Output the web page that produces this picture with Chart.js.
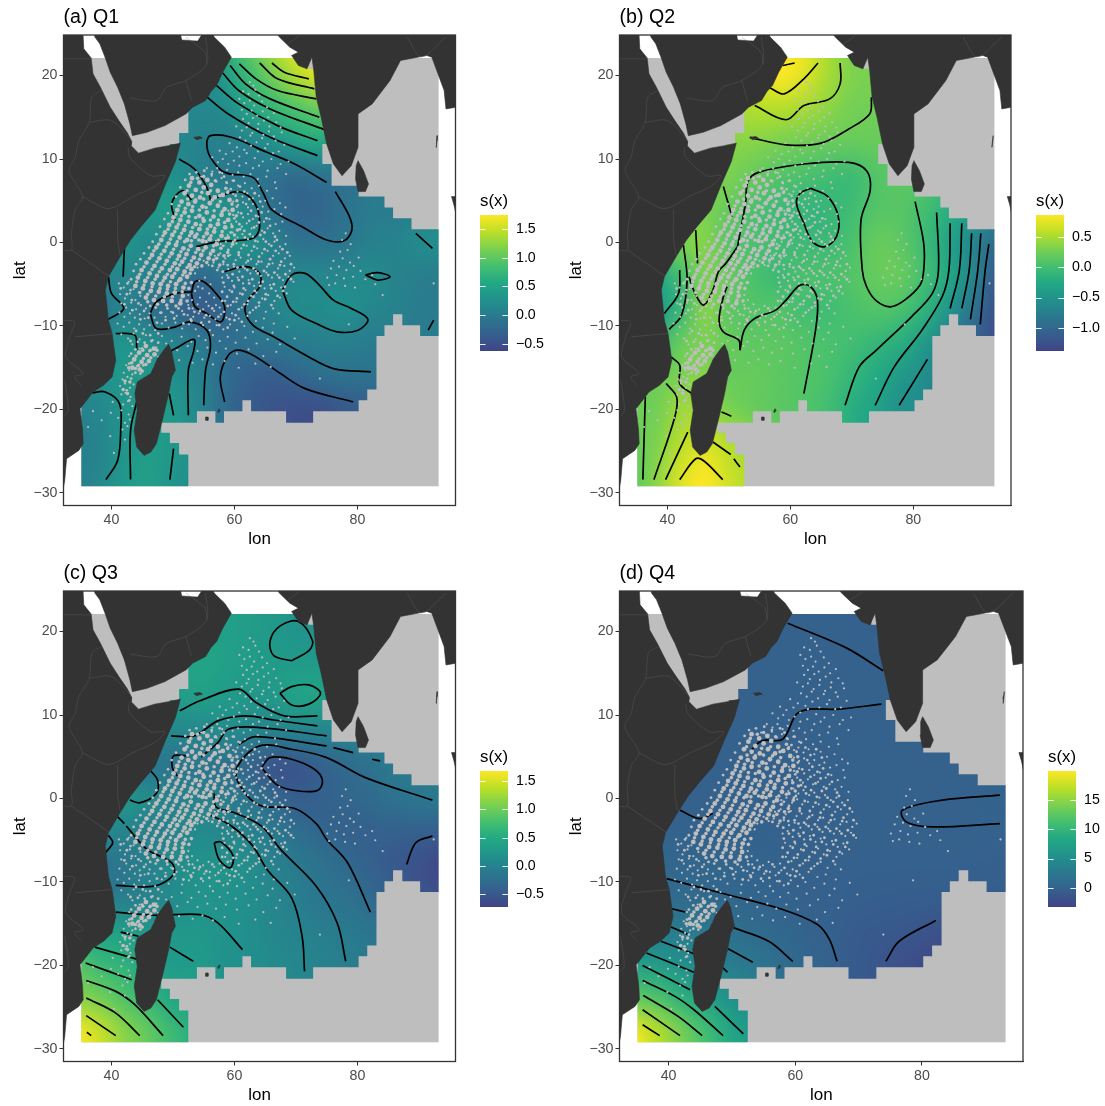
<!DOCTYPE html>
<html>
<head>
<meta charset="utf-8">
<title>s(x) by quarter</title>
<script src="https://cdn.jsdelivr.net/npm/chart.js@4/dist/chart.umd.min.js"></script>
<style>
html,body{margin:0;padding:0;background:#fff;overflow:hidden;width:1105px;height:1106px}
canvas{position:absolute}
</style>
</head>
<body>
<script>
// tick labels
var lonTicks = [40, 60, 80];
var latTicks = [-30, -20, -10, 0, 10, 20];
var q1Ticks = [-0.5, 0, 0.5, 1, 1.5];
var q2Ticks = [-1, -0.5, 0, 0.5];
var q3Ticks = [-0.5, 0, 0.5, 1, 1.5];
var q4Ticks = [0, 5, 10, 15];

// nodes of the s(x) fields
var fieldLon = [34, 38, 42, 46, 50, 54, 58, 62, 66, 70, 74, 78, 82, 86, 90, 94];
var fieldLat = [24, 20, 16, 12, 8, 4, 0, -4, -8, -12, -16, -20, -24, -28, -32];

var q1Field = [
[.1,.1,.1,.1,.2,.3,.6,1,1.35,1.7,1.74,1.74,1,.5,.3,.2],
[.1,.1,.1,.1,.2,.2,.35,.75,1.1,1.4,1.6,1.6,1,.5,.3,.2],
[.1,.1,.1,.1,.15,.15,.2,.45,.7,.9,1.05,1,.7,.4,.3,.2],
[.2,.2,.2,.15,.15,.1,.05,.1,.25,.45,.55,.3,.2,.1,.1,.1],
[.3,.3,.3,.3,.25,.1,-.02,-.05,-.1,-.2,-.1,-.1,0,0,0,0],
[.3,.3,.3,.35,.4,.25,.3,.15,-.1,-.25,-.25,-.1,0,0,.05,.1],
[.25,.25,.3,.2,.2,.15,.3,.3,.1,-.1,-.1,-.05,.05,.1,.2,.25],
[.1,.1,.15,.1,.1,-.2,-.1,0,.05,.15,.15,.15,.2,.1,.05,0],
[-.1,-.1,.1,-.1,-.2,-.35,-.25,-.05,.1,.2,.2,.25,.15,.1,0,0],
[.2,.2,.3,.25,.1,0,-.15,-.1,-.05,0,.05,.05,0,0,0,0],
[.2,.25,.35,.35,.25,.1,-.15,-.3,-.35,-.25,-.15,-.1,-.1,-.1,-.1,-.1],
[.1,.15,.3,.4,.35,.15,-.15,-.35,-.45,-.5,-.5,-.4,-.35,-.3,-.3,-.3],
[.05,.1,.3,.4,.35,.25,0,-.3,-.4,-.5,-.5,-.4,-.3,-.3,-.3,-.3],
[.05,.15,.35,.45,.3,.2,0,-.3,-.4,-.5,-.5,-.4,-.3,-.3,-.3,-.3],
[.05,.15,.35,.45,.3,.2,0,-.3,-.4,-.5,-.5,-.4,-.3,-.3,-.3,-.3]
];
var q2Field = [
[.3,.3,.4,.4,.5,.7,.86,.8,.5,.3,.3,.3,.2,0,-.2,-.4],
[.3,.3,.4,.4,.5,.7,.86,.75,.5,.32,.3,.3,.2,0,-.2,-.4],
[.3,.3,.4,.4,.45,.55,.55,.5,.38,.27,.25,.25,.2,0,-.2,-.4],
[.3,.3,.4,.4,.35,.35,.3,.25,.2,.2,.2,.2,.2,0,-.2,-.4],
[.3,.3,.4,.35,.3,.2,.1,.05,0,-.05,.1,.15,.15,-.05,-.2,-.4],
[.3,.35,.4,.3,.2,.05,-.03,-.1,-.1,-.02,.1,.12,0,-.2,-.4,-.7],
[.2,.2,.3,.35,.1,.05,0,-.05,-.05,.05,.2,.15,-.05,-.35,-.7,-1],
[-.3,-.3,0,.3,.2,.05,-.05,.05,.05,.1,.2,.2,0,-.3,-.7,-1.2],
[-.5,-.5,-.1,.35,.15,.1,.1,0,-.02,.05,.1,.05,-.15,-.5,-.9,-1.3],
[-.1,-.1,.2,.3,.2,.15,.15,.1,.05,0,-.1,-.2,-.45,-.8,-1.1,-1.3],
[.2,.2,.3,.35,.2,.2,.15,.1,.05,-.1,-.25,-.45,-.6,-.9,-1.1,-1.3],
[.25,.25,.45,.45,.3,.2,.15,.1,0,-.2,-.35,-.55,-.6,-.9,-1.1,-1.3],
[.2,.3,.55,.7,.55,.4,.2,.1,0,-.2,-.35,-.55,-.6,-.9,-1.1,-1.3],
[.15,.35,.7,.86,.65,.5,.2,.1,0,-.2,-.35,-.55,-.6,-.9,-1.1,-1.3],
[.15,.35,.7,.86,.65,.5,.2,.1,0,-.2,-.35,-.55,-.6,-.9,-1.1,-1.3]
];
var q3Field = [
[.3,.3,.3,.3,.35,.4,.38,.35,.3,.2,.2,.2,.2,.1,0,0],
[.3,.3,.3,.3,.35,.4,.37,.33,.28,.2,.2,.2,.2,.1,0,0],
[.3,.3,.3,.3,.35,.42,.38,.32,.3,.3,.3,.3,.2,.1,0,0],
[.1,.1,.1,.2,.3,.35,.3,.25,.25,.4,.4,.3,.2,.1,0,0],
[-.05,-.05,-.05,.05,.05,.05,.1,.05,0,0,0,0,0,-.05,-.05,-.1],
[.05,.05,-.05,-.15,-.15,-.15,-.2,-.35,-.55,-.55,-.4,-.3,-.2,-.1,-.1,-.1],
[.2,.2,.25,.1,0,0,-.05,-.15,-.3,-.45,-.4,-.35,-.3,-.2,-.15,-.1],
[.1,.1,0,-.05,0,.1,.05,0,-.1,-.25,-.35,-.4,-.4,-.4,-.4,-.45],
[-.2,-.2,-.15,0,.1,.2,.2,.15,0,-.1,-.2,-.3,-.4,-.5,-.6,-.7],
[-.1,-.1,-.05,0,.1,.2,.2,.15,.05,-.05,-.15,-.2,-.3,-.4,-.5,-.6],
[.4,.4,.35,.25,.25,.25,.2,.15,.05,0,-.05,-.1,-.15,-.2,-.3,-.4],
[.9,.7,.6,.4,.3,.3,.2,.15,.1,.05,0,-.05,-.1,-.2,-.3,-.4],
[1.15,1.05,.85,.65,.45,.35,.2,.15,.1,.05,0,-.05,-.1,-.2,-.3,-.4],
[1.68,1.45,1.15,.95,.7,.5,.2,.15,.1,.05,0,-.05,-.1,-.2,-.3,-.4],
[1.68,1.45,1.15,.95,.7,.5,.2,.15,.1,.05,0,-.05,-.1,-.2,-.3,-.4]
];
var q4Field = [
[0,0,0,0,0,0,0,0,-.1,-.3,-.4,-.3,0,0,0,0],
[0,0,0,0,0,0,0,0,-.05,-.2,-.3,-.2,0,0,0,0],
[0,0,0,0,0,0,0,0,0,0,0,0,0,0,0,0],
[0,0,0,0,0,0,0,0,0,0,0,0,0,0,0,0],
[0,0,0,0,0,0,0,0,0,0,0,0,0,0,0,0],
[0,0,0,0,0,0,0,0,0,0,0,0,0,0,0,.05],
[0,0,0,0,0,0,0,0,0,0,0,0,0,0,.05,.1],
[.2,.2,.1,.1,.1,.05,0,0,0,0,0,0,0,0,0,0],
[.5,.5,.5,.4,.3,.2,.1,0,0,-.1,-.2,-.2,-.2,-.2,-.3,-.3],
[1,1,1,.8,.5,.3,.1,0,-.2,-.4,-.5,-.6,-.6,-.6,-.6,-.6],
[3,3,3,2.5,1.6,1,.5,.1,-.3,-.8,-1,-1.2,-1.8,-1.8,-1.8,-1.8],
[7,7,5.5,4,3,2.2,1.2,.4,-.3,-.9,-1.5,-2.3,-2.6,-2.6,-2.6,-2.6],
[13,12,9.5,7.5,5.5,4,2,.4,-.3,-.9,-1.5,-2.3,-2.6,-2.6,-2.6,-2.6],
[20,17,14,11,8,6,2,.4,-.3,-.9,-1.5,-2.3,-2.6,-2.6,-2.6,-2.6],
[20,17,14,11,8,6,2,.4,-.3,-.9,-1.5,-2.3,-2.6,-2.6,-2.6,-2.6]
];

// raster extent and the stepped outline of its non-empty cells (lon,lat,...)
var gridLon = [35.1, 93.2];
var gridLat = [-29.2, 22.1];
var oceanCells = [35.1,-29.2,52.5,-29.2,52.5,-25.4,51,-25.4,51,-24,49.5,-24,49.5,-22.8,48.1,-22.8,48.1,-21.6,53.9,-21.6,53.9,-20.2,56.9,-20.2,56.9,-21.6,58.3,-21.6,58.3,-20.2,61.3,-20.2,61.3,-18.9,62.7,-18.9,62.7,-20.2,68.4,-20.2,68.4,-21.6,72.8,-21.6,72.8,-20.2,80.2,-20.2,80.2,-18.9,81.6,-18.9,81.6,-17.6,83.1,-17.6,83.1,-11.2,84.4,-11.2,84.4,-9.9,85.8,-9.9,85.8,-8.6,87.3,-8.6,87.3,-9.9,90.2,-9.9,90.2,-11.2,93.2,-11.2,93.2,1.6,88.8,1.6,88.8,2.9,85.8,2.9,85.8,4.2,84.4,4.2,84.4,5.5,80.2,5.5,80.2,6.8,75.8,6.8,75.8,9.4,74.3,9.4,74.3,11.8,75.2,11.8,75.2,20.8,72,20.8,72,22.1,52.5,22.1,52.5,13.1,51,13.1,51,11.8,49.5,11.8,49.5,9.5,48,9,45,3,41,0,38,-5,38,-15,35.1,-18];

// land outlines
var africa = [30,26,35.3,26,35.5,23.2,36.7,22.1,37,20.2,38.2,18.6,39.8,16.2,41.2,14.6,42.6,13.1,43.3,12.1,43.2,11.6,44.4,10.7,47,11.3,49.3,11.6,51.2,11.9,50.4,9.7,48.8,7,47.1,3.9,44.8,1.9,43.1,.3,41.4,-1.7,39.5,-4.1,39,-5.7,39.5,-9.3,40.1,-10.9,40.7,-14.1,40.1,-16.1,38.7,-17.1,37,-17.9,34.9,-19.9,35.3,-22.5,35.4,-24.1,34.7,-24.9,32.7,-25.9,32.4,-28.5,32.2,-29.3,30,-29.3];
var arabia = [37,26,37.3,24.6,38.1,23.8,39,22.1,39.8,20.4,41,18.6,42.1,16.6,43,14.2,43.4,12.8,45.8,13.2,48.7,14,52.1,15.4,53.2,16.2,55.3,17,56.2,18.1,57.1,18.8,58.1,20.4,59.5,22.2,58.4,23.4,56.7,24.6,56,26];
var india = [66,26,67.3,24.6,69,23.4,70.4,22.8,69.3,22.4,70.4,21.2,71.8,20.8,72.6,22.2,72.9,20.6,73.3,17.4,74.1,15,75,11.8,76.1,9.4,77.5,8,79,9.2,80.1,11.4,80.1,15.4,82.4,16.6,85.3,19.4,87,21.8,91.3,22.4,92.1,22.2,93.3,19.8,94.1,18.2,94.4,16,96,16.2,97,16.2,97,26];
var sriLanka = [79.8,9.2,80.1,9.8,81,8.6,81.8,7,81.3,6.1,80.1,6.1,79.7,7.6];
var madagascar = [49.3,-12.2,49.8,-13.1,50.4,-15.3,49.8,-16.1,49.3,-18.1,48.4,-20.9,47.3,-24.1,46.4,-25.1,45.3,-25.5,44.1,-24.5,43.7,-22.5,44.2,-20.1,43.8,-18.1,44.2,-16.7,46.4,-15.7,47.5,-13.9,48.7,-12.7];
var socotra = [53.4,12.6,54.4,12.7,54.8,12.5,53.8,12.3];
var mauritius = [55.3,-20.9,55.7,-20.9,55.7,-21.3,55.3,-21.3];
var reunion = [57.5,-19.9,57.7,-20.1,57.4,-20.4,57.3,-20.2];
var sumatra = [95.3,5.5,96,5.5,96,3.5,95.7,4.5];
var andaman = [93,12.8,92.95,12.2,92.8,11.4,92.85,12];
var persianGulf = [51.3,25,51.5,24.3,54,24.2,54.7,25];

var borders = [
[32,22,36.8,22],
[38.4,18.2,36.8,17.4,36.4,14.4,34.7,12.2,34.1,10.2,33.1,8.6,35.3,5.5,34.1,3.9,33.5,1.1,33.5,-.9,32,-.9],
[36.4,14.4,40,14.6,43.1,12.4],
[42.7,11.4,43,10.2,46.4,8,48.7,8,47,6.7,43.5,5.5,40.7,4.3,39,4.1,35.3,5.5],
[41,4,41,.5,41.4,-1.5],
[33.5,-.9,39.7,-4.1],
[43.1,17.3,47.3,17,49,18.6,52.1,19.4,55.5,21.4,55.3,24.6],
[52.1,19.4,53,17],
[52.1,24.6,55.2,22.8,55.5,21.4],
[32.2,-9.3,34,-9.5,33.2,-11.3,32.6,-13.7,35.4,-15.7,34,-16.1,35.1,-17.1],
[32.4,-16.5,33,-20.1,32.2,-20.9],
[34.1,-11.3,40.1,-10.9],
[88.1,24.6,90.4,22.2,94.4,24.6],
[68.7,23.8,71,25]
];

// contour lines, lon,lat pairs
var q1Contours = [
[66.1,21.5,68.1,20.4,72.1,19.6],
[64.1,21.5,67,19.6,73,18.4],
[60.8,21.4,63.5,19.6,67,18.2,73.3,17.2],
[59.3,21.2,61.8,19,65.8,17.2,73.8,15],
[58.1,20.3,60.7,18.2,65.8,16,74.7,13.5],
[57.1,18.8,60.7,16.6,67,14,73.5,12.2],
[55.4,17.5,59,15.4,65.8,12.6,73.5,10.4],
[75,7.2,69.8,9.4,65.3,10.8,59.5,12.6,56.1,12.8,55.5,11.9,56.1,10.2,58.4,8.4,63,7.8,64.7,5.9,66.1,3.9,71,1.9,75,.3,77.8,.2,79.1,1.5,78.7,3.1,76.4,6.1],
[51,10,53.5,8.8,55.5,6.6,56.1,5.1],
[50.4,2.7,49.8,4.7,51.5,6.2,53,5.1],
[56.1,5.1,60.7,6.1,63.3,4.7,64.1,1.9,63,.5,57.3,.1,53.8,-.5],
[89.5,1.1,92.2,-.7],
[81.3,-3.9,83.3,-3.6,85.3,-4.1,83.3,-4.5,81.3,-3.9],
[67.8,-5.7,69.3,-3.9,71.5,-3.7,73.8,-5.1,76.1,-6.9,79,-7.9,81.7,-9.2,80.1,-10.5,76.7,-10.7,73.3,-9.7,69.3,-8.1,67.8,-5.7],
[39.5,-4.1,40,-6.1,42,-7.9,39.5,-9.2],
[42.1,-.7,41.9,-4.1],
[46.3,-8.5,47.3,-7.1,50.4,-6.1,53,-5.9],
[46.3,-8.5,47.3,-10.3,50.4,-10.1,52.7,-9.5,55.5,-10.5,56.1,-12.5,55.3,-15.3,55,-19.5],
[53,-6.1,53.6,-4.7,55,-4.7,57,-6.1,58.4,-7.7,57.8,-9.5,55.5,-8.5,53.6,-7.7,53,-6.1],
[40.7,-10.9,43.8,-11.1,44.1,-12.9],
[47.5,-13.9,50.4,-12.7,53.4,-11.6,53.4,-12.9,52.5,-15.3,52.5,-20.7],
[49.4,-18.1,50.1,-20.7],
[50.1,-24.7,49.5,-28.4],
[36.8,-18,39,-17.9,41.3,-19.3,41.5,-22.5,41,-26.1,39.1,-28.4],
[43.1,-28.4,43.1,-22.5,44.1,-19.1],
[58.4,-19.1,57.7,-16.1,59,-13.5,60.7,-12.9,63.5,-13.7,67.5,-15.7,71.5,-17.5,79.3,-19.1],
[82.2,-15.5,76.1,-15.1,72.1,-13.7,66.4,-11.3,63,-9.9,61.7,-8.1,62.4,-6.7,64.1,-5.3,64.1,-3.7,61.8,-2.9,58.4,-3.5],
[91.5,-10.5,92.4,-9.3]
];
var q2Contours = [
[58.8,21.2,60.7,21.5],
[64.5,21.5,62.2,19.6,59,17.8,56.7,18.5],
[68.1,21.5,68.1,19,66.4,17.2,62.2,16.4,59.3,14.7,54.2,16.4],
[73.2,17.4,72.9,15.4,69.5,13.6,65,11.9,59.3,11.7,53.4,12.6],
[49.1,6.7,50.5,3.1],
[51.4,-.5,52.7,4.7,53.1,7.3,54.8,8.4,62.2,9.4,69.5,9.6,72.4,8.6,73,6.3,71.5,2.7,71.7,-3.3,72.4,-5.3,74,-7,76.3,-7.7,78.6,-6.9,81.1,-5.1,81.7,-3.3,81.7,-.1,80.3,4.9],
[63.3,6.5,66.1,5.5,67.8,3.1,67.5,.7,65.6,-.5,63.6,.1,62.2,2.3,61,4.7,61.6,5.9,63.3,6.5],
[83.8,3.6,84.1,-3.3,83.1,-6.1,79.7,-8.9,74,-12.9,71.2,-14.9,68.9,-19.5],
[86,2.3,85.8,-3.3,84.7,-6.5,81.4,-10.5,76.9,-14.9,73.8,-19.5],
[87.9,2.3,87.5,-3.3,86,-7.9],
[89.5,1.1,89.1,-3.3,87.9,-7.9],
[91,1.1,90.5,-3.3,89.3,-9.2],
[92.3,-.2,91.7,-3.3,90.9,-9.8],
[82.3,-14,77.7,-19.5],
[62.2,-18.1,64.1,-10.5,64.4,-6.9,63.3,-5.3,61.6,-5.1,59.3,-6.9,57.6,-8.1,54.2,-9.1,52.5,-10.5,51.8,-12.9],
[51.8,-12.9,51.6,-11.7,49.1,-10.7,48.4,-9.3,49.1,-6.5,49.7,-5.3],
[51.4,-.5,49.5,-2.5,48.3,-3.5,47.4,-5.7,45.9,-7.5,44.5,-6.1,43.5,-4.1],
[42.6,-.3,43.2,-4.5,42.3,-8.7,40.3,-10.4],
[42,-3.3,41.8,-6.1,39.5,-8.5],
[44.6,1.5,44.9,-2.5],
[40.6,-13.7,42,-14.7,42,-16.9,44,-18.1],
[39.8,-16.9,41.5,-18.5,41.2,-20.9,37.8,-28.4],
[36.4,-18.5,36,-28.4],
[43.3,-22.7,39.7,-28.4],
[42,-28.4,44.6,-25.9,46,-26.2,49,-28.4],
[47.4,-23.9,50.3,-25.4],
[50.8,-25.9,51.8,-26.9],
[48.8,-20.3,50.4,-20.8]
];
var q3Contours = [
[69.3,16.5,66.4,17.1,65.8,18.9,67.5,20.7,70.4,21.2,72.7,18.9,72.1,17.7,69.3,16.5],
[67.4,12.6,69.3,13.4,72.1,13.6,74,12.6,72.1,11.3,69.3,11.2,67.4,12.6],
[51.1,10.5,54.4,11.7,60.7,13.1,63.5,11.5,68.1,9.9,73.5,9.9],
[49.7,7.5,53.5,7.5,57.3,9.3,61.8,9.9,66.4,9.4,73.5,8.7],
[54.6,5,57.3,6.7,59,8.3,64.1,8.5,75,7.5],
[50.7,2.7,49.9,3.7,50.1,5.1,52.1,5.1],
[60.7,6.5,63.5,7.4,75,6.3],
[76.1,6.1,79.3,5.5],
[82.4,4.7,83.7,4.5],
[92.2,-.2,81.3,2.5,75,4.9,69.3,5.9,64.1,6.3,60.4,3.7,61,1.4,64.1,-.8,69.8,-1.2,73.3,-3,75,-4.9,78.4,-7.7,82.1,-13.6],
[64.4,3.7,65.8,4.9,69.3,4.7,73,3.5,74.3,2.2,73.6,1,70.4,.9,67,1.6,64.4,3.7],
[43,-.2,44.7,-.5,47.3,.6,47.5,2.2,46.4,3.3],
[41,-2.2,42.1,-3],
[56.7,.6,57,-1,60,-1.7,64.4,-3.3,67.5,-6.1,73.3,-10.5,76.7,-14.9,78.1,-19.5],
[55.5,-1.8,59.5,-3.3,63,-5.7,65.3,-8.5,69.3,-11.9,71,-16.5,71.4,-20.7],
[88,-7.9,89.5,-5.3,92.2,-4.5],
[39.5,-4.4,40.2,-5.3,39,-6.5],
[42.4,-3.3,45.8,-6.1,49.8,-7.7,50.1,-9.1,47,-10.5,40.7,-10.4],
[40.7,-13.6,43.5,-13.8,47.5,-14,54.4,-13.9,57.3,-14.9,61.3,-18.1],
[56.7,-5.3,57.8,-5.2,59.8,-6.9,59.3,-8.3,57.5,-7.3,56.7,-5.3],
[41.5,-16,44.4,-16.5],
[37.3,-17.8,44.4,-19.3],
[49.5,-17.8,53.3,-19.5],
[35.8,-19.7,43.3,-21.7],
[35.9,-21.8,40.7,-23.1,43.8,-24.7,48.4,-28.4],
[35.9,-23.9,40.7,-25.7,44.6,-28.4],
[35.9,-26,40.7,-28.4],
[36,-28,36.7,-28.4],
[47.5,-24.1,51.7,-27.4]
];
var q4Contours = [
[58.8,21,67.9,18.1,73.9,15.3],
[52.7,5.5,54.7,6.9,58,7.1,60.2,10.1,62.4,10.7,66.8,10.7,73.6,11.3],
[41.8,-1.4,44.8,-2.4,47,-1.8],
[92.3,.4,83.2,-.2,76.9,-1.4,77.5,-2.8,81.6,-3.4,92.3,-3],
[39.7,-9.6,49.2,-11.5,58,-13.3,63.5,-15.1,65.4,-16.9,66.6,-19.5],
[40.5,-13.2,42.6,-13.6],
[40.4,-15.4,43.1,-16.3],
[50.3,-15.5,55.8,-17.1,59.6,-19.5],
[38.8,-17.1,44,-18.6],
[49.4,-18,53.3,-19.6],
[36.5,-18.5,44,-20.8],
[48.6,-20.3,49.3,-20.8],
[35.9,-20,43.4,-22.9],
[35.9,-21.8,41,-23.7,44,-25.3,48.6,-28.4],
[36,-23.6,41.5,-26.1,45.3,-28.4],
[35.9,-25.3,41.8,-28.4],
[35.9,-27.1,38.6,-28.4],
[47.3,-24.9,51.8,-28.2],
[74.3,-19.5,76.4,-17.1,82.2,-14.6]
];

// observation locations, lon,lat pairs: thick core of the cloud
var coreCloud = [
53.1,7.7,54.3,7.2,55.6,7.5,52.6,6.8,53.7,6.3,55,6.6,56.2,6.9,57.3,6.2,51.9,5.9,53.1,5.6,54.4,5.4,55.7,5.9,56.8,5.4,58.1,5.7,59.2,5.1,
51.4,4.9,52.5,4.6,53.6,4.9,54.8,4.3,56,4.7,57.3,4.4,58.4,4,59.7,3.9,50.7,3.9,51.9,3.6,53.1,3.8,54.3,3.2,55.5,3.6,56.6,3.1,57.9,3.3,59,2.7,
50.1,3,51.2,2.7,52.5,2.5,53.7,2.2,55,2.6,56.1,2,57.3,2.2,58.5,1.8,49.4,2.1,50.6,1.8,51.8,1.5,53,1.2,54.3,1.6,55.5,1.1,56.7,1.3,57.9,.8,
48.7,1.2,49.9,.9,51.1,.6,52.3,.3,53.6,.7,54.8,.2,56,.4,57.1,-.2,48.1,.3,49.3,-.1,50.5,-.3,51.7,-.7,52.9,-.4,54.1,-.8,55.3,-.6,56.5,-1,
47.3,-.6,48.6,-1,49.8,-1.3,51,-1.6,52.2,-1.4,53.4,-1.8,54.6,-1.5,55.8,-1.9,46.6,-1.5,47.8,-1.9,49,-2.2,50.3,-2.5,51.5,-2.3,52.7,-2.7,53.9,-2.5,
45.7,-2.4,47,-2.8,48.2,-3.1,49.5,-3.3,50.7,-3.2,51.9,-3.5,53,-3.2,44.9,-3.3,46.2,-3.7,47.4,-4,48.7,-4.2,49.9,-4.1,51.2,-4.4,52.3,-4.1,44.3,-4.2,45.5,-4.6,46.7,-4.9,48,-5,49.2,-5.2,50.5,-5,51.7,-5.4,
43.9,-5.2,45.1,-5.5,46.4,-5.8,47.7,-5.9,49,-6.1,50.3,-6,51.6,-6.4,45.6,-6.6,46.9,-6.9,48.4,-7,49.8,-7,51.2,-7.3,
45.6,-12.4,46.9,-12.7,44.5,-13.2,45.8,-13.5,47,-13.4,43.7,-14,44.9,-14.3,46.1,-14.2,43.4,-15,44.6,-15.2
];
// fine points that fill the gaps of the core
var fineCloud = [
52.9,7.2,54,7.7,55,7.9,56.9,7.4,58.6,6.5,52.3,6.2,54.7,6,56.1,6.2,57.6,5.6,58.9,6,52.4,5.2,53.7,5.1,55,5.2,56.4,5.1,57.7,4.9,59.6,4.6,60.4,5,51,4.4,52,4.1,53.2,4.3,54.3,3.9,55.4,4.2,56.7,3.8,58,3.7,59.2,3.4,60.3,3.2,50.5,3.4,51.4,3.2,52.6,3.1,53.7,3,54.9,2.9,56.1,2.7,57.4,2.7,58.4,2.4,59.6,1.9,60.5,1.5,49.9,2.5,50.9,2.2,52,2,53.2,1.8,54.5,2.1,55.6,1.6,56.8,1.7,58,1.3,59,.6,60,.9,49.2,1.6,50.3,1.3,51.4,1.1,52.7,.8,53.9,1,55,.7,56.2,.8,57.4,.3,58.6,.5,59.7,-.2,
48.4,.8,49.6,.4,50.7,.1,51.9,.1,53,.2,54.2,.3,55.4,.1,56.6,-.4,57.8,-.7,58.9,-1.2,47.7,-.2,48.9,-.5,50.1,-.8,51.3,-1.1,52.5,-.9,53.7,-1.2,54.9,-1,56.1,-1.4,57.1,-1.9,58.3,-1.6,46.9,-1,48.1,-1.4,49.4,-1.7,50.7,-2,51.9,-1.9,53,-2.2,54.3,-2,55.5,-2.4,56.6,-2.1,57.6,-2.7,46.2,-1.9,47.4,-2.3,48.7,-2.6,49.9,-2.9,51.1,-2.7,52.3,-3,53.5,-2.9,54.7,-2.8,45.3,-2.9,46.6,-3.2,47.8,-3.5,49.1,-3.8,50.3,-3.7,51.6,-3.9,52.8,-3.7,44.6,-3.8,45.9,-4.2,47.1,-4.4,48.4,-4.6,49.6,-4.7,50.9,-4.6,52,-4.9,53,-4.8,44.1,-4.7,45.3,-5.1,46.6,-5.3,47.9,-5.5,49.1,-5.6,50.4,-5.5,51.5,-5.9,52.6,-5.5,44.6,-6,45.9,-6.2,47.2,-6.4,48.6,-6.5,49.9,-6.5,51.3,-6.9,52.3,-7,45.9,-7.1,47.5,-7.4,49,-7.5,50.5,-7.6,
45.1,-12.9,46.3,-12.9,44,-13.6,45.2,-13.9,46.4,-13.8,47.4,-12.9,43.3,-14.4,44.4,-14.7,45.6,-14.6,43.9,-15.1,45,-15.4,42.8,-15,42.2,-16.6,43,-16.7,41.9,-17.6,42.6,-18.1
];
// middling density ring around the core
var midCloud = [
59.4,6.4,60.2,5.6,60.9,6.7,58.7,7.2,59.9,7.4,61.6,6.1,62.4,5.2,63.3,5.9,64.2,4.9,60.4,4.3,61.1,3.5,61.9,4.6,62.7,3.8,63.5,3.2,64.4,3.6,65.2,2.9,60,2.9,60.8,2.2,61.6,1.4,62.4,2.6,63.2,1.8,64,2.4,64.9,1.2,65.8,2,66.6,.7,59.4,1.2,60.1,.3,60.9,1.6,61.7,.6,62.5,1,63.4,.2,64.2,.9,65.1,.1,66,-.4,66.9,.3,67.8,-.8,
58.2,-.4,59,-.9,59.8,.1,60.7,-1.2,61.5,-.3,62.3,-1.5,63.2,-.5,64,-1.7,64.9,-.8,65.8,-2,66.7,-1,67.6,-2.3,68.6,-1.2,57.4,-1.5,58.2,-2.3,59,-1.6,59.9,-2.6,60.7,-1.5,61.4,-2.9,62.2,-2.2,63.1,-3.1,63.9,-2.3,64.8,-3.4,65.6,-2.6,66.5,-3.6,67.4,-2.7,68.3,-3.8,69.2,-2.6,
56.4,-2.8,57.2,-3.3,58.1,-3.5,58.9,-2.7,59.7,-3.8,60.5,-3,61.3,-4.1,62.1,-3.3,62.9,-4.4,63.8,-3.7,64.6,-4.7,65.5,-3.9,66.4,-5,67.3,-4.2,68.2,-5.3,69.2,-4.4,58.2,-4.8,59,-4.2,59.9,-5.2,60.7,-4.5,61.5,-5.5,62.4,-4.9,63.3,-5.8,64.2,-5.2,65.1,-6.2,66,-5.5,67,-6.4,67.9,-5.8,58,-5.9,58.8,-6.5,59.6,-5.9,60.4,-6.7,61.3,-6.2,62.2,-7,63.1,-6.5,64,-7.2,65,-6.8,66,-7.5,
58,-7,58.9,-7.6,59.8,-7.1,60.7,-8,61.6,-7.4,62.5,-8.4,63.5,-7.8,54.4,-8.2,55.4,-8.7,56.4,-7.9,57.4,-8.9,58.3,-8.3,59.2,-9.2,60.2,-8.7,61.2,-9.5,52.6,-7.9,53.5,-8.3,52.9,-9.2,51.8,-8.6,50.9,-7.9,50,-8.4,49.1,-7.9,48.1,-8.4,47.2,-7.8,46.3,-7.6,45.3,-8.2,44.4,-7.3,43.3,-6.9,42.5,-6.2,43.1,-5.7,42.6,-4.9,43.2,-4.4,43.6,-3.4,44,-2.6,44.7,-2,45.3,-1.3,46.1,-.6,46.7,.1,47.3,1,47.9,1.9,48.6,2.8,49.2,3.5,49.8,4.6,50.5,5.5,51.2,6.6,52,7.5,52.7,8.2,
53.8,8.4,55.1,8.6,56.3,8.2,57.6,8.4,58.3,7.9,41.5,-5.5,42.1,-7.4,43.4,-8.1,44.7,-9.2,46,-9,47.4,-9.6,48.8,-9.3,50.2,-9.1,51.7,-9.7,53,-9.4,54.6,-9.6,55.9,-9.5,57.5,-9.9,58.9,-10.2,60,-9.3,44,-10.6,45.1,-10.9,46.3,-11.1,47.6,-10.9,43.1,-11.8,44.3,-11.9,45.4,-12,46.5,-11.8,47.6,-12,43.9,-12.8,45,-12.7,46.2,-13,43.2,-13.3,44.2,-14.8,45.2,-14.7,43.9,-15.6,44.7,-15.7,42.9,-14.5,43.2,-16.3,42.5,-17.7,42.9,-18.9
];
// thin scatter
var looseCloud = [
62.5,19.2,63.1,18.8,61.4,18.1,62.3,17.8,63.4,18.3,64,17.6,60.8,17.2,61.6,16.7,62.5,17,63.2,16.4,64.5,16.9,65.3,16.2,61.2,15.9,62,15.4,62.8,15.8,63.7,15.2,64.6,15.7,65.5,15,66.4,15.5,61.4,14.8,62.3,14.3,63,14.9,63.9,14.2,64.8,14.6,65.7,13.9,66.8,14.4,67.5,13.8,60.3,13.9,61.2,13.4,62,13.8,62.9,13.1,63.8,13.6,64.7,12.9,65.6,13.3,66.4,12.7,67.7,13.2,60.9,12.6,61.8,12.2,62.6,12.8,63.6,12,64.5,12.5,65.4,11.8,66.7,12.2,68.1,11.7,59.2,11.9,60.4,11.4,61.6,11.1,62.7,11.6,63.8,10.9,65,11.3,66.3,10.7,67.2,10.9,57.6,11,58.6,10.6,59.7,10.9,60.8,10.3,62,10.7,63.3,10.1,64.6,9.7,66,10,67.5,9.4,68.8,9.7,
56.4,10.2,57.3,9.6,58.1,10,59,9.4,59.9,9.8,60.8,9.2,61.9,9.5,63,8.9,64,9.2,65.4,8.6,67,8.9,68.4,8.2,55.5,8.9,56.4,8.5,57.2,8.9,58,8.3,58.8,8.7,59.7,8.1,60.6,8.4,61.5,7.9,62.6,8.2,63.8,7.6,65.2,7.9,66.6,7.2,54.6,7.9,55.4,7.6,56.3,8,57.1,7.3,57.9,7.7,58.8,7.1,59.7,7.4,60.6,6.8,61.7,7.1,62.8,6.5,64,6.8,65.3,6.2,66.8,6.5,59,6.2,59.8,5.8,60.5,6.1,61.3,5.5,62.1,5.9,63,5.3,64,5.6,65,5,66.2,5.3,67.4,4.7,68.3,4.2,59.8,4.9,60.6,4.5,61.4,4.8,62.2,4.2,63,4.6,63.8,4,64.6,4.3,65.5,3.7,66.5,4,67.6,3.4,59,3.8,59.8,3.3,60.6,3.6,61.4,3,62.2,3.4,63,2.8,63.9,3.1,64.8,2.5,65.7,2.8,66.7,2.2,67.8,2.5,58.7,2.6,59.5,2.2,60.3,2.5,61.2,1.9,62,2.3,62.8,1.7,63.6,2,64.5,1.4,65.4,1.7,66.3,1.1,67.3,1.4,68.4,.8,
58,1.3,58.9,.9,59.7,1.2,60.5,.6,61.3,1,62.2,.4,63,.7,63.8,.1,64.7,.4,65.6,-.2,66.5,.1,67.4,-.5,68.3,-.2,57,.2,57.8,-.2,58.6,.1,59.5,-.5,60.3,-.1,61.1,-.7,62,-.4,62.8,-1,63.7,-.7,64.5,-1.3,65.4,-1,66.3,-1.6,67.2,-1.3,68.2,-1.9,69,-1.6,56,-1.2,56.8,-1.6,57.7,-1.3,58.5,-1.9,59.3,-1.5,60.2,-2.1,61,-1.8,61.9,-2.4,62.7,-2,63.6,-2.6,64.4,-2.3,65.3,-2.9,66.2,-2.5,67.1,-3.1,68.1,-2.8,69,-3.4,69.7,-3,55,-2.2,55.8,-2.7,56.6,-2.4,57.4,-3,58.2,-2.6,59,-3.2,59.9,-2.9,60.8,-3.5,61.7,-3.1,62.6,-3.7,63.5,-3.4,64.3,-4,65.2,-3.6,66.1,-4.2,67,-3.9,67.9,-4.5,68.8,-4.1,69.6,-4.7,
54,-3,53.6,-3.7,58,-4.2,58.8,-3.9,59.6,-4.6,60.5,-4.2,61.4,-4.9,62.3,-4.5,63.2,-5.2,64,-4.8,64.9,-5.5,65.8,-5.1,66.7,-5.8,67.6,-5.4,68.5,-6.1,58.4,-5.3,59.2,-5.7,60,-5.4,60.9,-6.1,61.8,-5.7,62.7,-6.4,63.6,-6,64.5,-6.7,65.5,-6.3,66.5,-7,67.4,-6.6,41.2,-4.9,42,-5.4,42.8,-4.7,43.6,-5.6,41.4,-6.2,42.2,-6.7,43,-6.1,43.9,-6.9,44.7,-6.4,52.5,-6.3,53.1,-6.9,41.6,-7.3,42.4,-7.8,43.2,-7.2,44,-8,44.8,-7.5,45.6,-7.9,52.5,-7.5,53.2,-7.9,54,-7.4,54.9,-8,55.8,-7.6,56.7,-8.2,57.6,-7.8,58.5,-7,59.4,-7.5,60.3,-7.1,61.2,-7.8,62.1,-7.4,63,-8.1,64,-7.6,65.1,-8.3,66.3,-7.9,67.2,-8.5,
41.3,-8.4,42.1,-8.9,43,-8.5,43.8,-9,44.6,-8.6,45.4,-9.1,46.2,-8.5,47,-9,47.9,-8.4,48.8,-8.9,49.7,-8.3,50.6,-8.8,51.5,-8.2,52.4,-8.7,53.3,-8.9,54.2,-8.5,55.1,-9,56,-8.8,56.9,-9.2,57.8,-8.6,58.7,-9,59.6,-8.5,60.7,-9.1,62.1,-8.8,63.5,-9.4,64.8,-9.1,66.4,-9.7,41,-9.7,42,-10.1,42.9,-9.6,43.7,-10.3,44.5,-9.8,45.3,-10.4,46.2,-9.9,47.1,-10.5,48.2,-9.7,49.3,-10.2,50.4,-9.6,51.5,-10.3,52.6,-9.8,53.7,-10.4,54.9,-9.9,56,-10.5,57.1,-9.9,58.2,-10.4,59.3,-9.8,60.4,-10.5,61.6,-10,63,-10.7,64.6,-10.2,66.2,-10.8,68.6,-10.1,
41.6,-11,42.7,-11.5,43.6,-10.9,44.6,-11.6,45.6,-11.1,46.7,-11.7,48.2,-11.2,49.8,-11.8,51.4,-11.3,53,-11.9,54.2,-11.2,55.3,-11.7,56.5,-11.1,57.6,-11.8,58.9,-11.3,60.2,-12,61.8,-11.4,63.6,-12.1,65.4,-11.6,67.4,-12.2,69.8,-11.5,43.4,-12.2,44.6,-12.7,47.3,-12.6,48.9,-12.1,50.7,-12.9,52.4,-12.4,54,-13,55.6,-12.6,57,-13.2,58.6,-12.7,60.4,-13.3,62.3,-12.8,64.7,-13.6,66.8,-13.1,42.9,-13.6,47.6,-13.7,51,-14.1,53.2,-14.4,54.8,-14,56.5,-14.6,58.4,-14.2,60.7,-15,63.4,-14.5,65.9,-14.9,42.4,-14.7,42,-15.6,42.9,-15.3,47,-14.9,41.8,-16.4,42.6,-16.1,43.4,-15.8,41.4,-17.2,42.2,-16.9,43,-17.4,43.6,-17,41.6,-18.2,42.3,-18,43.1,-18.5,40.2,-19.1,41.9,-19.4,42.7,-19,43.4,-19.6,37,-20.2,39.9,-20.4,41.6,-20.1,42.8,-20.6,38.4,-21.3,41.1,-21,42.2,-21.6,43,-21.2,36.2,-22.1,41.8,-22.4,42.6,-22,39.8,-23.2,42.2,-23.6,40.4,-25.2,
77.2,-1.1,78.4,-.9,76.1,-2.2,77.6,-1.9,78.8,-2.4,80.2,-1.8,75.7,-3.1,77,-2.9,78.2,-3.3,79.4,-2.8,80.5,-3.4,75.1,-4.2,76.6,-3.9,77.8,-4.3,79.3,-4.1,81.3,-4.4,82.4,-3.9,75.4,-5.1,76.4,-4.9,78,-5.2,79.6,-5.4,82.9,-5,78.9,-.2,77.5,.3,78.1,1.1,78.6,-9.8,73.9,-16.3,92.4,-4.9,84.1,-6.3
];
// extra points of the first quarter, where the gap of the other panels is filled
var q1GapPoints = [54.3,-4.6,55.2,-4.2,56.1,-5,54.8,-5.5,55.9,-6.1,54.4,-6.6,56.7,-6.6,55.4,-7.1,57,-7.5,54.1,-5.3,53.6,-5.8];

var viridisTail = ['#414487','#355F8D','#2A788E','#21918C','#22A884','#44BF70','#7AD151','#BBDF27','#FDE725'];

var panels = [
  {title:'(a) Q1', field:q1Field, contours:q1Contours, extra:q1GapPoints, ticks:q1Ticks, vmin:-0.62, vmax:1.74, left:0, top:0, w:462, plotW:392, lonMin:32.2, lonMax:95.95, legLeft:480},
  {title:'(b) Q2', field:q2Field, contours:q2Contours, extra:[], ticks:q2Ticks, vmin:-1.38, vmax:0.86, left:556, top:0, w:462, plotW:391.5, lonMin:32.2, lonMax:95.9, legLeft:1036},
  {title:'(c) Q3', field:q3Field, contours:q3Contours, extra:[], ticks:q3Ticks, vmin:-0.73, vmax:1.68, left:0, top:556, w:462, plotW:392, lonMin:32.2, lonMax:95.95, legLeft:480},
  {title:'(d) Q4', field:q4Field, contours:q4Contours, extra:[], ticks:q4Ticks, vmin:-3.3, vmax:20, left:556, top:556, w:474, plotW:403.5, lonMin:32.25, lonMax:95.95, legLeft:1048}
];

Chart.defaults.font.family = '"Liberation Sans", Arial, sans-serif';

function pairs(flat) {
  var out = [];
  for (var i = 0; i < flat.length; i += 2) out.push({x: flat[i], y: flat[i + 1]});
  return out;
}
function hexRgb(h) {
  return [parseInt(h.substr(1, 2), 16), parseInt(h.substr(3, 2), 16), parseInt(h.substr(5, 2), 16)];
}
function colorAt(t) {
  t = Math.max(0, Math.min(1, t)) * (viridisTail.length - 1);
  var i = Math.min(Math.floor(t), viridisTail.length - 2), f = t - i;
  var a = hexRgb(viridisTail[i]), b = hexRgb(viridisTail[i + 1]);
  return [a[0] + (b[0] - a[0]) * f, a[1] + (b[1] - a[1]) * f, a[2] + (b[2] - a[2]) * f];
}
function minusSign(v) {
  return String(v).replace('-', '\u2212');
}
function minusFixed(v) {
  return (v < 0 ? '\u2212' : '') + Math.abs(v).toFixed(1);
}
function addCanvas(left, top, w, h) {
  var c = document.createElement('canvas');
  c.width = w; c.height = h;
  c.style.left = left + 'px'; c.style.top = top + 'px';
  c.style.width = w + 'px'; c.style.height = h + 'px';
  document.body.appendChild(c);
  return c;
}

// grey raster background and the s(x) field, placed with the chart's scales
function fieldPlugin(p) {
  var off = document.createElement('canvas');
  off.width = fieldLon.length; off.height = fieldLat.length;
  var octx = off.getContext('2d');
  var img = octx.createImageData(off.width, off.height);
  p.field.forEach(function (row, j) {
    row.forEach(function (v, i) {
      var c = colorAt((v - p.vmin) / (p.vmax - p.vmin)), k = (j * off.width + i) * 4;
      img.data[k] = c[0]; img.data[k + 1] = c[1]; img.data[k + 2] = c[2]; img.data[k + 3] = 255;
    });
  });
  octx.putImageData(img, 0, 0);
  return {
    id: 'field',
    beforeDatasetsDraw: function (chart) {
      var ctx = chart.ctx, x = chart.scales.x, y = chart.scales.y;
      ctx.save();
      ctx.fillStyle = '#BEBEBE';
      ctx.fillRect(x.getPixelForValue(gridLon[0]), y.getPixelForValue(gridLat[1]),
        x.getPixelForValue(gridLon[1]) - x.getPixelForValue(gridLon[0]),
        y.getPixelForValue(gridLat[0]) - y.getPixelForValue(gridLat[1]));
      ctx.beginPath();
      pairs(oceanCells).forEach(function (pt, i) {
        var px = x.getPixelForValue(pt.x), py = y.getPixelForValue(pt.y);
        if (i) ctx.lineTo(px, py); else ctx.moveTo(px, py);
      });
      ctx.closePath();
      ctx.clip();
      ctx.imageSmoothingEnabled = true;
      ctx.imageSmoothingQuality = 'high';
      var x0 = x.getPixelForValue(fieldLon[0] - 2), x1 = x.getPixelForValue(fieldLon[fieldLon.length - 1] + 2);
      var y0 = y.getPixelForValue(fieldLat[0] + 2), y1 = y.getPixelForValue(fieldLat[fieldLat.length - 1] - 2);
      ctx.drawImage(off, x0, y0, x1 - x0, y1 - y0);
      ctx.restore();
    }
  };
}
var framePlugin = {
  id: 'frame',
  afterDraw: function (chart) {
    var a = chart.chartArea, ctx = chart.ctx;
    ctx.save();
    ctx.strokeStyle = '#333333';
    ctx.lineWidth = 1.3;
    ctx.strokeRect(a.left, a.top, a.right - a.left, a.bottom - a.top);
    ctx.restore();
  }
};
function colourbarPlugin(p) {
  return {
    id: 'colourbar',
    beforeDatasetsDraw: function (chart) {
      var a = chart.chartArea, ctx = chart.ctx, y = chart.scales.y;
      var g = ctx.createLinearGradient(0, a.bottom, 0, a.top);
      viridisTail.forEach(function (c, i) { g.addColorStop(i / (viridisTail.length - 1), c); });
      ctx.save();
      ctx.fillStyle = g;
      ctx.fillRect(a.left, a.top, a.right - a.left, a.bottom - a.top);
      ctx.strokeStyle = 'rgba(255,255,255,0.9)';
      ctx.lineWidth = 1;
      var tw = (a.right - a.left) / 5;
      p.ticks.forEach(function (v) {
        var py = Math.round(y.getPixelForValue(v)) + 0.5;
        ctx.beginPath();
        ctx.moveTo(a.left, py); ctx.lineTo(a.left + tw, py);
        ctx.moveTo(a.right - tw, py); ctx.lineTo(a.right, py);
        ctx.stroke();
      });
      ctx.restore();
    }
  };
}

function mapDatasets(p) {
  var list = [];
  p.contours.forEach(function (c) {
    list.push({data: pairs(c), showLine: true, tension: 0.35, borderColor: '#000', borderWidth: 1.7, pointRadius: 0, fill: false});
  });
  var grey = 'rgb(190,190,190)';
  list.push({data: pairs(coreCloud), showLine: false, pointRadius: 2.4, pointBorderWidth: 0, pointBackgroundColor: grey});
  list.push({data: pairs(fineCloud), showLine: false, pointRadius: 1.8, pointBorderWidth: 0, pointBackgroundColor: grey});
  list.push({data: pairs(midCloud), showLine: false, pointRadius: 1.4, pointBorderWidth: 0, pointBackgroundColor: grey});
  list.push({data: pairs(looseCloud.concat(p.extra)), showLine: false, pointRadius: 1.1, pointBorderWidth: 0, pointBackgroundColor: grey});
  [africa, arabia, india, sriLanka, madagascar, socotra, mauritius, reunion, sumatra, andaman].forEach(function (poly) {
    list.push({data: pairs(poly.concat(poly.slice(0, 2))), showLine: true, tension: 0, fill: 'shape', backgroundColor: '#333333', borderColor: '#333333', borderWidth: 0.6, pointRadius: 0});
  });
  list.push({data: pairs(persianGulf.concat(persianGulf.slice(0, 2))), showLine: true, tension: 0, fill: 'shape', backgroundColor: '#fff', borderColor: '#fff', borderWidth: 0.5, pointRadius: 0});
  borders.forEach(function (b) {
    list.push({data: pairs(b), showLine: true, tension: 0.3, borderColor: 'rgba(110,110,110,0.6)', borderWidth: 0.5, pointRadius: 0, fill: false});
  });
  // first dataset in the list is painted first
  list.forEach(function (d, i) { d.order = list.length - i; });
  return list;
}

panels.forEach(function (p) {
  var canvas = addCanvas(p.left, p.top, p.w, 552);
  new Chart(canvas, {
    type: 'scatter',
    data: {datasets: mapDatasets(p)},
    plugins: [fieldPlugin(p), framePlugin],
    options: {
      responsive: false,
      animation: false,
      events: [],
      layout: {padding: {right: p.w - 63.5 - p.plotW}},
      plugins: {
        legend: {display: false},
        tooltip: {enabled: false},
        title: {display: true, text: p.title, align: 'start', fullSize: false, color: '#000',
          font: {size: 19.6, weight: 'normal'}, padding: {top: 5.5, bottom: 6}}
      },
      scales: {
        x: {
          type: 'linear', min: p.lonMin, max: p.lonMax,
          afterBuildTicks: function (s) { s.ticks = lonTicks.map(function (v) { return {value: v}; }); },
          afterFit: function (s) { s.height = 46.5; s.paddingLeft = 0; s.paddingRight = 0; },
          grid: {display: true, drawOnChartArea: false, tickLength: 4, tickColor: '#333333', tickWidth: 1},
          border: {color: '#333333', width: 1},
          ticks: {color: '#4D4D4D', font: {size: 14.2}, padding: 2, maxRotation: 0, callback: function (v) { return minusSign(v); }},
          title: {display: true, text: 'lon', color: '#000', font: {size: 17}, padding: {top: 0, bottom: 2.5}}
        },
        y: {
          type: 'linear', min: -31.5, max: 24.85,
          afterBuildTicks: function (s) { s.ticks = latTicks.map(function (v) { return {value: v}; }); },
          afterFit: function (s) { s.width = 63.5; s.paddingTop = 0; s.paddingBottom = 0; },
          grid: {display: true, drawOnChartArea: false, tickLength: 4, tickColor: '#333333', tickWidth: 1},
          border: {color: '#333333', width: 1},
          ticks: {color: '#4D4D4D', font: {size: 14.2}, padding: 2, callback: function (v) { return minusSign(v); }},
          title: {display: true, text: 'lat', color: '#000', font: {size: 17}, padding: {top: 10, bottom: 0}}
        }
      }
    }
  });

  // colour bar of the panel
  var legend = addCanvas(p.legLeft, p.top + 180, 69, 171);
  new Chart(legend, {
    type: 'scatter',
    data: {datasets: [{data: []}]},
    plugins: [colourbarPlugin(p)],
    options: {
      responsive: false,
      animation: false,
      events: [],
      plugins: {
        legend: {display: false},
        tooltip: {enabled: false},
        title: {display: true, text: 's(x)', align: 'start', fullSize: false, color: '#000',
          font: {size: 17, weight: 'normal'}, padding: {top: 11.6, bottom: 3}}
      },
      scales: {
        x: {display: false},
        y: {
          type: 'linear', position: 'right', min: p.vmin, max: p.vmax,
          afterBuildTicks: function (s) { s.ticks = p.ticks.map(function (v) { return {value: v}; }); },
          afterFit: function (s) { s.width = 41; s.paddingTop = 0; s.paddingBottom = 0; },
          grid: {display: false},
          border: {display: false},
          ticks: {color: '#000', font: {size: 14.2}, padding: 0, callback: function (v) { return p === panels[3] ? minusSign(v) : minusFixed(v); }}
        }
      }
    }
  });
});
</script>
</body>
</html>
